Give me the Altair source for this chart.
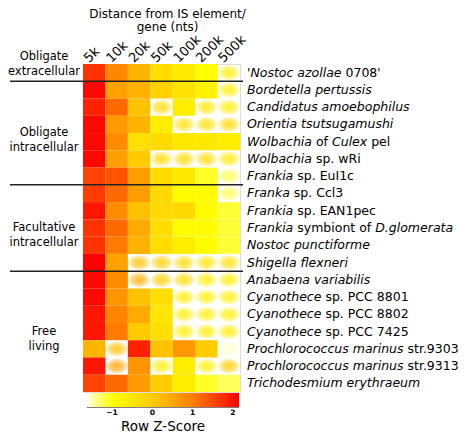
import altair as alt
import pandas as pd

# ---------------- data ----------------
cols = ["5k", "10k", "20k", "50k", "100k", "200k", "500k"]

# label segments: (text, italic?)
species = [
    [("'Nostoc azollae", 1), (" 0708'", 0)],
    [("Bordetella pertussis", 1)],
    [("Candidatus amoebophilus", 1)],
    [("Orientia tsutsugamushi", 1)],
    [("Wolbachia", 1), (" of ", 0), ("Culex", 1), (" pel", 0)],
    [("Wolbachia", 1), (" sp. wRi", 0)],
    [("Frankia", 1), (" sp. EuI1c", 0)],
    [("Franka", 1), (" sp. Ccl3", 0)],
    [("Frankia", 1), (" sp. EAN1pec", 0)],
    [("Frankia", 1), (" symbiont of ", 0), ("D.glomerata", 1)],
    [("Nostoc punctiforme", 1)],
    [("Shigella flexneri", 1)],
    [("Anabaena variabilis", 1)],
    [("Cyanothece", 1), (" sp. PCC 8801", 0)],
    [("Cyanothece", 1), (" sp. PCC 8802", 0)],
    [("Cyanothece", 1), (" sp. PCC 7425", 0)],
    [("Prochlorococcus marinus", 1), (" str.9303", 0)],
    [("Prochlorococcus marinus", 1), (" str.9313", 0)],
    [("Trichodesmium erythraeum", 1)],
]

zscores = [
    [1.70, 0.90, 0.30, -0.35, -0.60, -1.00, -0.70],
    [2.10, 0.55, 0.35, -0.10, -0.45, -0.75, -0.75],
    [1.85, 1.20, 0.15, -0.25, -0.65, -0.55, -0.70],
    [2.10, 0.65, 0.30, -0.65, -0.40, -0.40, -0.30],
    [2.10, 0.85, -0.40, -0.30, -0.55, -0.55, -0.65],
    [2.10, 0.60, 0.00, -0.35, -0.35, -0.35, -0.60],
    [1.55, 1.40, 0.60, -0.30, -0.55, -1.10, -1.20],
    [1.60, 1.20, 0.60, -0.25, -0.95, -0.95, -1.20],
    [1.95, 0.85, 0.15, -0.25, -0.25, -0.95, -1.15],
    [1.70, 1.20, 0.45, -0.35, -0.95, -0.95, -1.15],
    [1.70, 1.05, 0.35, -0.35, -0.65, -0.95, -1.15],
    [2.15, 0.55, 0.15, -0.10, -0.30, -0.50, -0.40],
    [2.10, 0.85, 0.35, -0.10, -0.35, -0.65, -0.65],
    [2.10, 0.75, 0.15, -0.35, -0.65, -0.65, -0.70],
    [1.95, 0.95, 0.45, -0.50, -0.65, -0.65, -0.70],
    [1.95, 1.05, 0.00, -0.35, -0.65, -0.65, -0.70],
    [0.30, 0.15, 1.85, 0.15, 0.70, 0.00, -1.55],
    [1.95, 0.55, 0.75, -0.65, -0.65, -0.65, 0.00],
    [1.55, 1.20, 0.65, 0.00, -0.65, -1.10, -1.25],
]

# cells drawn as a faded "glow" in the reference
glow = [
    [0, 0, 0, 0, 0, 0, 1],
    [0, 0, 0, 0, 0, 0, 1],
    [0, 0, 0, 1, 0, 1, 1],
    [0, 0, 0, 0, 1, 1, 1],
    [0, 0, 0, 0, 0, 0, 0],
    [0, 0, 0, 1, 1, 1, 1],
    [0, 0, 0, 0, 0, 0, 1],
    [0, 0, 0, 0, 0, 0, 1],
    [0, 0, 0, 0, 0, 0, 0],
    [0, 0, 0, 0, 0, 0, 0],
    [0, 0, 0, 0, 0, 0, 0],
    [0, 0, 1, 1, 1, 1, 1],
    [0, 0, 1, 1, 1, 1, 1],
    [0, 0, 0, 0, 1, 1, 1],
    [0, 0, 0, 0, 1, 1, 1],
    [0, 0, 0, 0, 1, 1, 1],
    [0, 1, 0, 0, 0, 0, 1],
    [0, 1, 0, 1, 0, 1, 1],
    [0, 0, 0, 0, 0, 0, 0],
]

group_names = ["Obligate\nextracellular", "Obligate\nintracellular",
               "Facultative\nintracellular", "Free\nliving"]
group_spans = [(0, 1), (1, 7), (7, 12), (12, 19)]
separators = [1, 7, 12]

legend_ticks = [-1, 0, 1, 2]
z_domain = [-1.62, -1, 0, 1, 2.15]
z_colors = ["#ffffe8", "#ffff00", "#ffcc00", "#ff8000", "#ff0000"]

# ---------------- layout helpers ----------------
W, H = 157, 328
FONT = "DejaVu Sans"
LABEL_SIZE = 12.5
LABEL_X0 = W + 7
LEG_Y = 329

# DejaVu Sans advance widths (units per 2048 em)
adv = {" ": 651, "'": 563, ".": 651, "A": 1401, "B": 1405, "C": 1430, "D": 1577,
       "E": 1294, "F": 1178, "I": 604, "N": 1532, "O": 1612, "P": 1235, "R": 1423,
       "S": 1300, "T": 1251, "W": 2025,
       "a": 1255, "b": 1300, "c": 1126, "d": 1300, "e": 1260, "f": 721, "g": 1300,
       "h": 1298, "i": 569, "j": 569, "k": 1186, "l": 569, "m": 1995, "n": 1298,
       "o": 1253, "p": 1300, "q": 1300, "r": 842, "s": 1067, "t": 803, "u": 1298,
       "v": 1212, "w": 1675, "x": 1212, "y": 1212, "z": 1075}


def text_w(s):
    return sum(adv.get(ch, 1303 if ch.isdigit() else 1250) for ch in s) * LABEL_SIZE / 2048.0


cell_rows = []
for i, (zs, gs) in enumerate(zip(zscores, glow)):
    for j, (z, g) in enumerate(zip(zs, gs)):
        cell_rows.append(dict(col=cols[j], r0=i, r1=i + 1, ym=i + 0.5, z=z, glow=g))
cells = pd.DataFrame(cell_rows)

seg_rows = []
for i, segs in enumerate(species):
    cur = LABEL_X0
    for txt, it in segs:
        lead = len(txt) - len(txt.lstrip(" "))
        seg_rows.append(dict(px=cur + text_w(" " * lead), ym=i + 0.5,
                             text=txt.strip(" "), it=it))
        cur += text_w(txt)
segs_df = pd.DataFrame(seg_rows)

groups_df = pd.DataFrame(dict(name=group_names,
                              ym=[(a + b) / 2 for a, b in group_spans],
                              first=[1, 0, 0, 0]))
sep_df = pd.DataFrame(dict(s=separators))

yscale = alt.Scale(domain=[0, len(species)], reverse=True, nice=False, zero=False)
cscale = alt.Scale(domain=z_domain, range=z_colors, interpolate="rgb")
xscale = alt.Scale(domain=cols, paddingInner=0, paddingOuter=0)

xenc = alt.X("col:N", sort=cols, scale=xscale,
             axis=alt.Axis(orient="top", labelAngle=-45, labelAlign="left",
                           labelBaseline="middle", labelFontSize=13, labelColor="black",
                           labelPadding=4, labelOffset=-8, domain=False, ticks=False,
                           labelFont=FONT,
                           title=["Distance from IS element/", "gene (nts)"],
                           titleFont=FONT, titleFontSize=12, titleFontWeight="normal",
                           titleColor="black", titleX=84, titleY=-56,
                           titleBaseline="top", titleAlign="center", titleLineHeight=13))
xplain = alt.X("col:N", sort=cols, scale=xscale, axis=None)

rect = alt.Chart(cells).transform_filter("datum.glow == 0").mark_rect().encode(
    x=xenc,
    y=alt.Y("r0:Q", scale=yscale, axis=None),
    y2="r1:Q",
    color=alt.Color("z:Q", scale=cscale, legend=alt.Legend(
        type="gradient",
        orient="none", legendX=4, legendY=LEG_Y, direction="horizontal",
        gradientLength=152, gradientThickness=14, gradientStrokeWidth=0,
        title="Row Z-Score", titleOrient="bottom", titleAnchor="middle",
        titleAlign="center", titleFontSize=13.5, titleFontWeight="normal",
        titleFont=FONT, titleColor="black", titlePadding=3,
        labelFont=FONT, labelFontSize=7.5, labelFontWeight="bold",
        labelColor="black", labelOffset=2, values=legend_ticks)),
)

ellipse = "M -1 0 A 1 0.7 0 1 1 1 0 A 1 0.7 0 1 1 -1 0 Z"
glow_layers = []
for w in [21, 16, 11, 6]:
    glow_layers.append(
        alt.Chart(cells).transform_filter("datum.glow == 1").mark_point(
            shape=ellipse, size=w * w, filled=True, opacity=0.3, strokeWidth=0
        ).encode(
            x=xplain,
            y=alt.Y("ym:Q", scale=yscale, axis=None),
            color=alt.Color("z:Q", scale=cscale, legend=None),
        )
    )

seps = alt.Chart(sep_df).mark_rule(color="#222222", strokeWidth=1.5).encode(
    y=alt.Y("s:Q", scale=yscale, axis=None),
    x=alt.value(-73), x2=alt.value(W + 3),
)

lab_it = alt.Chart(segs_df).transform_filter("datum.it == 1").mark_text(
    align="left", baseline="middle", fontStyle="italic", fontSize=LABEL_SIZE,
    font=FONT, color="black"
).encode(x=alt.X("px:Q", scale=None, axis=None),
         y=alt.Y("ym:Q", scale=yscale, axis=None), text="text:N")

lab_n = alt.Chart(segs_df).transform_filter("datum.it == 0").mark_text(
    align="left", baseline="middle", fontSize=LABEL_SIZE, font=FONT, color="black"
).encode(x=alt.X("px:Q", scale=None, axis=None),
         y=alt.Y("ym:Q", scale=yscale, axis=None), text="text:N")

grp_common = dict(align="center", baseline="middle", fontSize=11.5, font=FONT,
                  color="black", lineBreak="\n", lineHeight=15)
grp = alt.Chart(groups_df).transform_filter("datum.first == 0").mark_text(**grp_common).encode(
    x=alt.value(-39), y=alt.Y("ym:Q", scale=yscale, axis=None), text="name:N")
grp0 = alt.Chart(groups_df).transform_filter("datum.first == 1").mark_text(
    dy=-16, **grp_common).encode(
    x=alt.value(-39), y=alt.Y("ym:Q", scale=yscale, axis=None), text="name:N")

leg_line = alt.Chart(alt.Data(values=[{}])).mark_rule(color="black", strokeWidth=1).encode(
    x=alt.value(4), x2=alt.value(156), y=alt.value(LEG_Y + 14))

chart = alt.layer(rect, *glow_layers, seps, lab_it, lab_n, grp, grp0, leg_line).resolve_scale(
    x="independent"
).resolve_axis(x="independent").properties(
    width=W, height=H,
    padding={"left": 75, "top": 56, "right": 225, "bottom": 48},
    autosize=alt.AutoSizeParams(type="none"),
).configure_view(stroke=None).configure(font=FONT, background="white")

chart.save("out.html", embed_options={"renderer": "svg", "actions": False})
